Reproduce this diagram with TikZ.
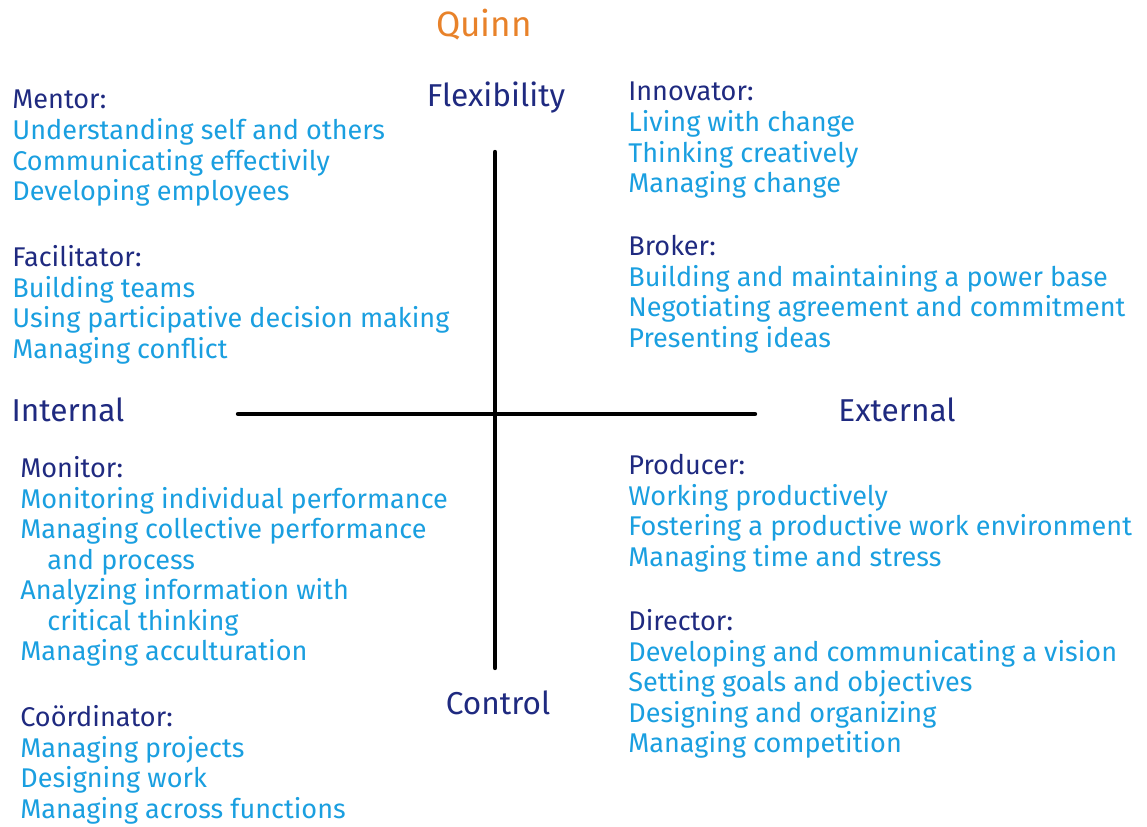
\documentclass[tikz,border=0pt]{standalone}
\usepackage{fontspec}
\setmainfont{Fira Sans}
\usetikzlibrary{positioning}
\definecolor{rolenavy}{HTML}{1F2A80}
\definecolor{skillblue}{HTML}{1A9FE0}
\definecolor{titleorange}{HTML}{E8822A}
\tikzset{
    x=0.02cm, y=-0.02cm, % one unit is one pixel, y runs downwards
    axis/.style={line width=2.5pt, line cap=round}, % the two crossing axes
    dimension/.style={text=rolenavy, font=\fontsize{18}{21}\selectfont},
    role/.style={anchor=north west, inner sep=0pt, align=left, text=skillblue,
        font=\fontsize{15.4}{17.4}\selectfont}, % a role with its skills below it
}
\newcommand{\rolename}[1]{\textcolor{rolenavy}{#1}}
\newcommand{\indentline}{\hspace*{1em}}

\begin{document}
\begin{tikzpicture}
    \useasboundingbox (0,0) rectangle (1147,827);

    \node[text=titleorange, font=\fontsize{20}{24}\selectfont] (quinn) at (484,25) {Quinn};

    % axes
    \coordinate (top) at (495,152);
    \coordinate (bottom) at (495,668);
    \coordinate (left) at (238,414);
    \coordinate (right) at (755,414);
    \draw[axis] (top) -- (bottom);
    \draw[axis] (left) -- (right);

    \node[dimension] (flexibility) at (496,98) {Flexibility};
    \node[dimension] (control) at (498,703) {Control};
    \node[dimension] (internal) at (68,410) {Internal};
    \node[dimension] (external) at (897,410) {External};

    % upper left
    \node[role] (mentor) at (12,90) {\rolename{Mentor:}\\
        Understanding self and others\\
        Communicating effectivily\\
        Developing employees};
    \node[role] (facilitator) at (12,245) {\rolename{Facilitator:}\\
        Building teams\\
        Using participative decision making\\
        Managing conflict};

    % lower left
    \node[role] (monitor) at (20,456) {\rolename{Monitor:}\\
        Monitoring individual performance\\
        Managing collective performance\\
        \indentline and process\\
        Analyzing information with\\
        \indentline critical thinking\\
        Managing acculturation};
    \node[role] (coordinator) at (20,705) {\rolename{Coördinator:}\\
        Managing projects\\
        Designing work\\
        Managing across functions};

    % upper right
    \node[role] (innovator) at (628,82) {\rolename{Innovator:}\\
        Living with change\\
        Thinking creatively\\
        Managing change};
    \node[role] (broker) at (628,235) {\rolename{Broker:}\\
        Building and maintaining a power base\\
        Negotiating agreement and commitment\\
        Presenting ideas};

    % lower right
    \node[role] (producer) at (628,454) {\rolename{Producer:}\\
        Working productively\\
        Fostering a productive work environment\\
        Managing time and stress};
    \node[role] (director) at (628,609) {\rolename{Director:}\\
        Developing and communicating a vision\\
        Setting goals and objectives\\
        Designing and organizing\\
        Managing competition};
\end{tikzpicture}
\end{document}
